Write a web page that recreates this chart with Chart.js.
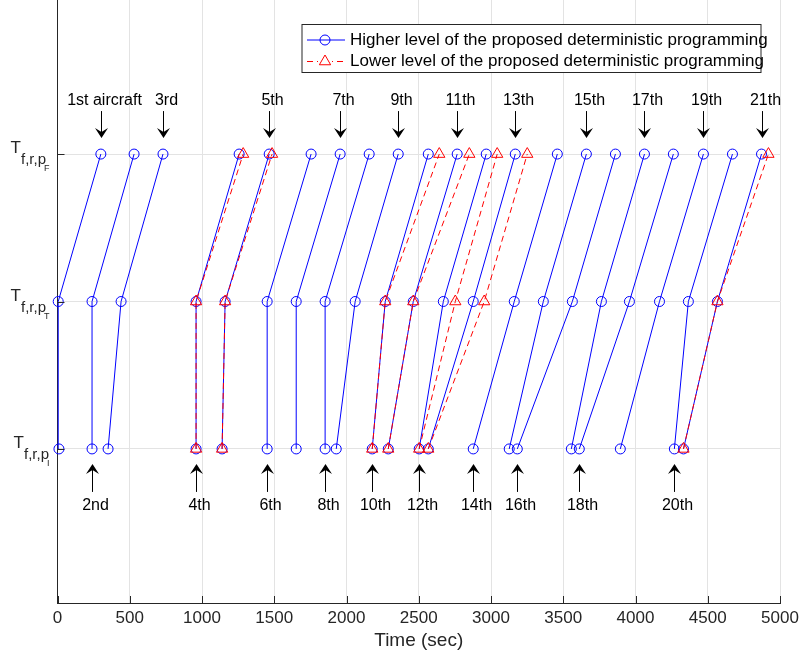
<!DOCTYPE html>
<html>
<head>
<meta charset="utf-8">
<script src="https://cdn.jsdelivr.net/npm/chart.js@4.4.1/dist/chart.umd.min.js"></script>
<style>
  html, body { margin: 0; padding: 0; background: #fff; }
  #wrap { width: 804px; height: 659px; }
</style>
</head>
<body>
<div id="wrap"><canvas id="chart" width="804" height="659"></canvas></div>
<script>
// --- Data (time in seconds) ---
const levels = [1, 2, 3];                 // p_I, p_T, p_F
const levelNames = ['I', 'T', 'F'];
const xTicks = [0, 500, 1000, 1500, 2000, 2500, 3000, 3500, 4000, 4500, 5000];

// higher level: all 21 aircraft
const higherI = [10, 239, 350, 959, 1139, 1451, 1652, 1852, 1929, 2178, 2289, 2503, 2566, 2877, 3126, 3182, 3556, 3611, 3895, 4269, 4332];
const higherT = [5, 239, 440, 959, 1160, 1451, 1652, 1852, 2060, 2268, 2462, 2670, 2877, 3161, 3362, 3563, 3764, 3958, 4166, 4366, 4567];
const higherF = [300, 530, 730, 1257, 1465, 1755, 1956, 2157, 2358, 2566, 2766, 2967, 3168, 3459, 3660, 3861, 4062, 4262, 4470, 4671, 4872];

// lower level: only the aircraft that were re-scheduled
const lowerI = [959, 1139, 2178, 2289, 2503, 2566, 4332];
const lowerT = [959, 1160, 2268, 2462, 2753, 2953, 4567];
const lowerF = [1285, 1485, 2642, 2850, 3043, 3251, 4920];

const topLabels = ['1st aircraft', '3rd', '5th', '7th', '9th', '11th', '13th', '15th', '17th', '19th', '21th'];
const bottomLabels = ['2nd', '4th', '6th', '8th', '10th', '12th', '14th', '16th', '18th', '20th'];

const legendText = ['Higher level of the proposed deterministic programming',
                    'Lower level of the proposed deterministic programming'];

// --- Styles ---
const BLUE = '#0000ff';
const RED = '#ff0000';
const AXIS = '#262626';
const FONT = '"Liberation Sans", Arial, sans-serif';
Chart.defaults.font.family = FONT;

// --- Datasets ---
const datasets = [];
higherF.forEach((f, i) => {
  datasets.push({
    data: [{ x: higherI[i], y: levels[0] }, { x: higherT[i], y: levels[1] }, { x: f, y: levels[2] }],
    showLine: true, borderColor: BLUE, borderWidth: 1, clip: false, order: 1,
    pointStyle: 'circle', pointRadius: 5, pointBorderWidth: 1,
    pointBorderColor: BLUE, pointBackgroundColor: 'rgba(0,0,0,0)'
  });
});
lowerF.forEach((f, i) => {
  datasets.push({
    data: [{ x: lowerI[i], y: levels[0] }, { x: lowerT[i], y: levels[1] }, { x: f, y: levels[2] }],
    showLine: true, borderColor: RED, borderWidth: 1, borderDash: [6, 4], clip: false, order: 0,
    pointStyle: 'triangle', pointRadius: 6.5, pointBorderWidth: 1,
    pointBorderColor: RED, pointBackgroundColor: 'rgba(0,0,0,0)'
  });
});

// --- Drawing helpers ---
function arrow(ctx, x, yTail, yTip) {
  const dir = Math.sign(yTip - yTail);
  const hl = 10, hw = 6.5, notch = 4;
  ctx.beginPath();
  ctx.moveTo(x, yTail);
  ctx.lineTo(x, yTip - dir * hl / 2);
  ctx.stroke();
  ctx.beginPath();
  ctx.moveTo(x, yTip);
  ctx.lineTo(x - hw, yTip - dir * hl);
  ctx.lineTo(x, yTip - dir * (hl - notch));
  ctx.lineTo(x + hw, yTip - dir * hl);
  ctx.closePath();
  ctx.fill();
}

function triangle(ctx, x, y, r) {
  ctx.beginPath();
  ctx.moveTo(x, y - r);
  ctx.lineTo(x + r * Math.cos(Math.PI / 6), y + r * 0.5);
  ctx.lineTo(x - r * Math.cos(Math.PI / 6), y + r * 0.5);
  ctx.closePath();
  ctx.stroke();
}

const extras = {
  id: 'extras',
  afterDraw(chart) {
    const { ctx, chartArea: a, scales: { x, y } } = chart;
    ctx.save();

    // inward tick marks
    ctx.strokeStyle = AXIS; ctx.lineWidth = 1;
    ctx.beginPath();
    xTicks.forEach(v => {
      const px = Math.round(x.getPixelForValue(v)) + 0.5;
      ctx.moveTo(px, a.bottom); ctx.lineTo(px, a.bottom - 7);
    });
    levels.forEach(v => {
      const py = Math.round(y.getPixelForValue(v)) + 0.5;
      ctx.moveTo(a.left, py); ctx.lineTo(a.left + 7, py);
    });
    ctx.stroke();

    // y tick labels  T_{f,r,p_X}
    ctx.fillStyle = AXIS; ctx.textAlign = 'left'; ctx.textBaseline = 'alphabetic';
    const f1 = '17px ' + FONT, f2 = '15px ' + FONT, f3 = '9px ' + FONT;
    levels.forEach((v, i) => {
      const py = y.getPixelForValue(v);
      ctx.font = f1; const w1 = ctx.measureText('T').width;
      ctx.font = f2; const w2 = ctx.measureText('f,r,p').width;
      ctx.font = f3; const w3 = ctx.measureText(levelNames[i]).width;
      let xx = a.left - 8 - (w1 + w2 - 2 + w3);
      ctx.font = f1; ctx.fillText('T', xx, py - 1); xx += w1;
      ctx.font = f2; ctx.fillText('f,r,p', xx, py + 10); xx += w2 - 2;
      ctx.font = f3; ctx.fillText(levelNames[i], xx, py + 17);
    });

    // aircraft annotations
    ctx.fillStyle = '#000'; ctx.strokeStyle = '#000'; ctx.lineWidth = 1;
    ctx.font = '16px ' + FONT; ctx.textAlign = 'center'; ctx.textBaseline = 'middle';
    const yF = y.getPixelForValue(levels[2]);
    const yI = y.getPixelForValue(levels[0]);
    topLabels.forEach((t, k) => {
      const px = Math.round(x.getPixelForValue(higherF[2 * k])) + 0.5;
      arrow(ctx, px, yF - 43, yF - 16);
      ctx.fillText(t, px + 3, yF - 53);
    });
    bottomLabels.forEach((t, k) => {
      const px = Math.round(x.getPixelForValue(higherI[2 * k + 1])) + 0.5;
      arrow(ctx, px, yI + 43, yI + 15);
      ctx.fillText(t, px + 3, yI + 57);
    });

    // legend
    const bx = a.left + 244.5, by = 24.5, bw = 459, bh = 48;
    ctx.fillStyle = '#fff'; ctx.fillRect(bx, by, bw, bh);
    ctx.strokeStyle = AXIS; ctx.lineWidth = 1; ctx.strokeRect(bx, by, bw, bh);
    const rows = [by + 15.5, by + 37];
    ctx.lineWidth = 1;
    ctx.strokeStyle = BLUE;
    ctx.beginPath(); ctx.moveTo(bx + 5, rows[0]); ctx.lineTo(bx + 43, rows[0]); ctx.stroke();
    ctx.beginPath(); ctx.arc(bx + 23, rows[0], 5, 0, Math.PI * 2); ctx.stroke();
    ctx.strokeStyle = RED;
    ctx.setLineDash([6, 4]);
    ctx.beginPath(); ctx.moveTo(bx + 5, rows[1]); ctx.lineTo(bx + 43, rows[1]); ctx.stroke();
    ctx.setLineDash([]);
    ctx.fillStyle = '#fff'; ctx.fillRect(bx + 16, rows[1] - 7, 14, 12);
    triangle(ctx, bx + 23, rows[1], 6.5);
    ctx.fillStyle = '#000'; ctx.font = '17px ' + FONT; ctx.textAlign = 'left'; ctx.textBaseline = 'middle';
    ctx.fillText(legendText[0], bx + 48, rows[0]);
    ctx.fillText(legendText[1], bx + 48, rows[1]);

    ctx.restore();
  }
};

// --- Chart ---
new Chart(document.getElementById('chart'), {
  type: 'scatter',
  data: { datasets },
  options: {
    responsive: false,
    animation: false,
    layout: { autoPadding: false, padding: { left: 0, right: 24, top: 0, bottom: 0 } },
    plugins: { legend: { display: false }, tooltip: { enabled: false } },
    scales: {
      x: {
        type: 'linear', min: 0, max: 5000,
        afterBuildTicks: s => { s.ticks = xTicks.map(v => ({ value: v })); },
        afterFit: s => { s.height = 56; s.paddingLeft = 0; s.paddingRight = 0; },
        grid: { color: '#e3e3e3', drawTicks: false },
        border: { color: AXIS },
        ticks: { padding: 5, color: AXIS, font: { size: 17 }, maxRotation: 0, autoSkip: false,
                 callback: v => String(v) },
        title: { display: true, text: 'Time (sec)', color: AXIS, font: { size: 19 }, padding: { top: 0, bottom: 7 } }
      },
      y: {
        type: 'linear', min: -0.045, max: 4.045,
        afterBuildTicks: s => { s.ticks = levels.map(v => ({ value: v })); },
        afterFit: s => { s.width = 57.5; s.paddingTop = 0; s.paddingBottom = 0; },
        grid: { color: '#e3e3e3', drawTicks: false },
        border: { color: AXIS },
        ticks: { display: false }
      }
    }
  },
  plugins: [extras]
});
</script>
</body>
</html>
